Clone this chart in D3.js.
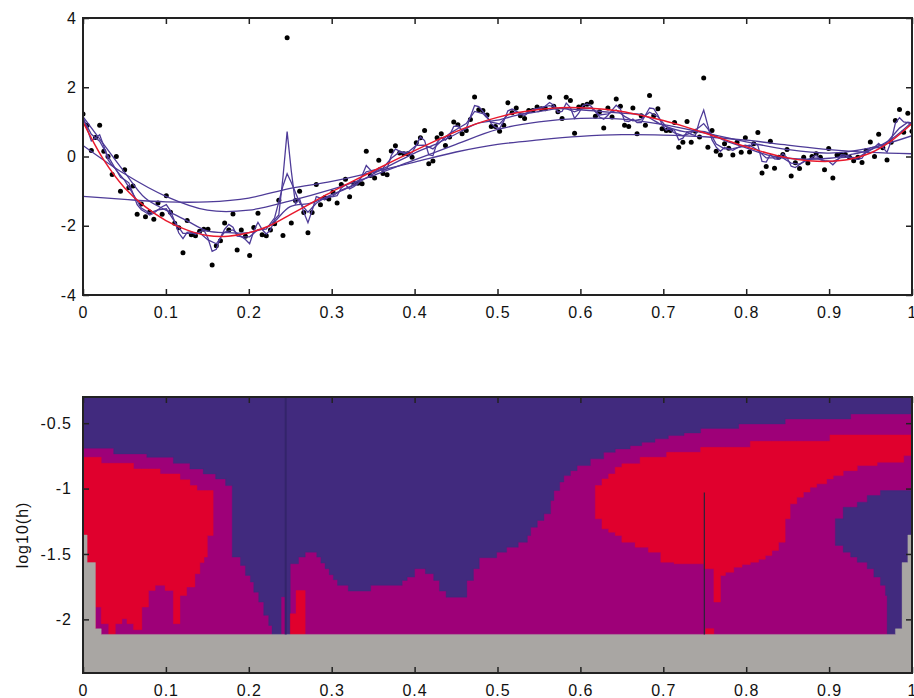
<!DOCTYPE html>
<html>
<head>
<meta charset="utf-8">
<script src="https://cdn.jsdelivr.net/npm/d3@7"></script>
<style>
body { margin: 0; background: white; }
text { font-family: "Liberation Sans", Arial, Helvetica, sans-serif; }
</style>
</head>
<body>
<script>
// observations, evenly spaced on [0, 1]
var ptsY = [1.23,0.90,0.17,0.55,0.90,0.15,0.0,-0.52,0.0,-1.0,
	-0.38,-0.9,-0.85,-1.67,-1.37,-1.74,-1.6,-1.81,-1.34,-1.67,
	-1.13,-1.61,-1.93,-2.06,-2.78,-1.85,-2.26,-2.29,-2.16,-2.1,
	-2.1,-3.13,-2.58,-2.43,-1.92,-2.12,-1.66,-2.7,-2.12,-2.3,
	-2.86,-2.05,-1.64,-2.26,-2.29,-2.12,-1.94,-1.26,-2.28,3.43,
	-1.92,-1.27,-1.0,-1.62,-2.2,-1.62,-0.81,-1.39,-1.19,-1.23,
	-1.03,-1.34,-0.81,-0.66,-1.16,-0.77,-0.77,-0.79,0.15,-0.55,
	-0.62,-0.11,-0.49,-0.53,0.16,0.31,0.1,0.08,0.08,-0.02,
	0.4,0.54,0.75,-0.21,-0.13,0.54,0.66,0.32,0.56,1.0,
	0.92,0.66,0.75,1.07,1.72,1.35,1.33,1.2,0.87,0.87,
	0.73,0.9,1.55,1.26,1.4,1.18,1.1,1.33,1.33,1.43,
	1.38,1.38,1.71,1.45,1.29,1.1,1.71,1.62,0.67,1.43,
	1.47,1.51,1.57,1.16,1.29,0.82,1.4,1.14,1.66,1.45,
	0.9,0.87,1.4,0.66,1.18,0.9,1.76,1.18,1.38,0.8,
	0.75,0.75,0.98,0.27,0.41,1.01,0.41,0.73,0.56,2.27,
	0.27,0.75,0.15,0.04,0.37,0.24,0.04,0.41,0.12,0.54,
	0.13,0.37,0.69,-0.48,-0.29,0.44,-0.34,-0.02,0.06,0.2,
	-0.56,-0.18,-0.35,-0.02,-0.19,0.0,0.08,-0.02,-0.38,0.23,
	-0.62,0.04,0.05,0.06,-0.02,-0.12,-0.02,-0.17,0.17,0.42,
	0.0,0.64,0.25,-0.1,0.41,1.04,1.36,0.7,1.25,0.73]

// smallest bandwidth fit, one value per observation
var fitH1 = [1.12,0.80,0.45,0.54,0.63,0.30,-0.09,-0.26,-0.38,-0.60,
	-0.67,-0.76,-1.07,-1.39,-1.54,-1.61,-1.69,-1.64,-1.54,-1.45,
	-1.39,-1.57,-1.88,-2.21,-2.37,-2.19,-2.17,-2.25,-2.18,-2.12,
	-2.36,-2.74,-2.68,-2.34,-2.10,-1.96,-2.04,-2.30,-2.31,-2.40,
	-2.52,-2.15,-1.90,-2.11,-2.24,-2.12,-1.82,-1.69,-0.60,0.72,
	-0.42,-1.37,-1.22,-1.61,-1.91,-1.56,-1.16,-1.20,-1.25,-1.17,
	-1.16,-1.13,-0.91,-0.82,-0.94,-0.87,-0.78,-0.55,-0.26,-0.39,
	-0.48,-0.33,-0.41,-0.35,0.03,0.22,0.15,0.09,0.06,0.11,
	0.33,0.56,0.46,0.05,0.02,0.40,0.55,0.47,0.61,0.87,
	0.88,0.75,0.81,1.15,1.47,1.44,1.30,1.15,0.95,0.84,
	0.81,1.02,1.32,1.37,1.31,1.22,1.18,1.27,1.36,1.39,
	1.39,1.46,1.56,1.48,1.28,1.30,1.54,1.41,1.10,1.25,
	1.47,1.52,1.45,1.30,1.14,1.08,1.19,1.34,1.48,1.37,
	1.03,1.01,1.08,0.98,0.98,1.19,1.40,1.38,1.19,0.93,
	0.76,0.81,0.75,0.48,0.53,0.71,0.64,0.61,1.03,1.34,
	0.89,0.48,0.27,0.15,0.26,0.22,0.18,0.25,0.30,0.33,
	0.29,0.39,0.32,-0.14,-0.16,0.06,-0.07,-0.08,0.08,-0.03,
	-0.28,-0.32,-0.23,-0.15,-0.10,-0.03,0.04,-0.09,-0.14,-0.14,
	-0.24,-0.12,0.05,0.04,-0.03,-0.07,-0.08,-0.05,0.15,0.25,
	0.27,0.38,0.26,0.12,0.44,0.96,1.12,1.00,0.98,0.90]

// second bandwidth: observation index where read, and value
var fitH2Idx = [0,2,4,6,8,10,12,14,16,18,20,22,24,26,28,30,32,34,36,38,40,42,44,46,48,49,50,
	52,54,56,58,60,62,64,66,68,70,72,74,76,78,80,82,84,86,88,90,92,94,96,98,100,
	102,104,106,108,110,112,114,116,118,120,122,124,126,128,130,132,134,136,138,140,
	142,144,146,148,149,150,152,154,156,158,160,162,164,166,168,170,172,174,176,178,
	180,182,184,186,188,190,192,194,196,198,199]
var fitH2 = [1.1,0.64,0.44,0.01,-0.40,-0.69,-1.08,-1.49,-1.63,-1.54,-1.51,-1.88,-2.22,-2.22,-2.20,-2.41,-2.52,-2.18,-2.12,-2.32,-2.32,-2.11,-2.10,-1.77,-0.85,-0.50,-0.75,
	-1.33,-1.61,-1.35,-1.20,-1.14,-0.97,-0.88,-0.71,-0.44,-0.39,-0.34,-0.05,0.13,0.12,0.32,0.33,0.22,0.45,0.66,0.81,0.95,1.30,1.24,0.99,0.94,
	1.21,1.29,1.24,1.33,1.42,1.47,1.39,1.38,1.29,1.39,1.40,1.20,1.23,1.34,1.16,1.03,1.08,1.28,1.15,0.86,
	0.68,0.60,0.68,0.85,0.95,0.80,0.36,0.22,0.23,0.28,0.33,0.18,-0.04,-0.04,-0.04,-0.19,-0.22,-0.09,-0.04,-0.12,
	-0.15,-0.03,-0.02,-0.04,0.12,0.25,0.27,0.55,0.82,0.99,0.97]

// medium bandwidth, x = 0, 0.025, ..., 1
var gridFine = d3.range(41).map(i => i / 40)
var fitH3 = [1.15,0.35,-0.45,-1.2,-1.55,-1.85,-2.15,-2.2,-2.2,-2.0,-1.45,-1.35,-1.1,-0.85,-0.5,-0.2,0.1,0.35,0.65,0.95,
	1.05,1.2,1.3,1.38,1.35,1.3,1.25,1.2,0.9,0.72,0.72,0.45,0.25,0.05,-0.05,-0.08,-0.05,0.05,0.2,0.5,1.0]
var truth = [1.0,-0.1,-0.9,-1.45,-1.85,-2.12,-2.28,-2.3,-2.2,-2.0,-1.68,-1.35,-1.02,-0.72,-0.42,-0.12,0.17,0.45,0.72,0.95,
	1.13,1.27,1.36,1.41,1.41,1.37,1.3,1.18,1.04,0.87,0.68,0.48,0.28,0.1,-0.04,-0.12,-0.14,-0.08,0.1,0.45,0.95]

// large bandwidths, x = 0, 0.05, ..., 1
var gridCoarse = d3.range(21).map(i => i / 20)
var fitH4 = [0.32,-0.5,-1.15,-1.55,-1.55,-1.28,-0.95,-0.55,-0.1,0.35,0.78,1.0,1.1,1.08,0.92,0.68,0.42,0.2,0.1,0.25,0.6]
var fitH5 = [-1.15,-1.24,-1.31,-1.31,-1.2,-0.92,-0.72,-0.45,-0.16,0.13,0.35,0.48,0.58,0.63,0.62,0.57,0.47,0.33,0.2,0.12,0.08]

// SiZer map: step boundaries in log10(h); X arrays hold the step edges
var blueTopX = [0,0.037,0.077,0.109,0.129,0.145,0.16,0.172,0.18,0.19,0.196,0.202,0.206,0.212,0.218,0.224,0.228,
	0.250,0.26,0.268,0.282,0.287,0.292,0.297,0.302,0.307,0.32,0.347,0.385,0.391,0.400,0.413,0.423,0.430,0.438,
	0.463,0.471,0.478,0.499,0.511,0.525,0.536,0.540,0.548,0.556,0.564,0.568,0.575,0.580,0.588,0.596,0.612,
	0.628,0.642,0.660,0.674,0.690,0.706,0.725,0.745,0.791,0.847,0.926,1.0]
var blueTopLo = [-0.691,-0.735,-0.761,-0.807,-0.85,-0.888,-0.926,-0.977,-1.524,-1.588,-1.664,-1.715,-1.792,-1.868,-1.969,-2.046,-2.41,
	-1.575,-1.524,-1.486,-1.524,-1.570,-1.613,-1.659,-1.697,-1.740,-1.784,-1.740,-1.702,-1.677,-1.613,-1.651,-1.702,-1.784,-1.830,
	-1.702,-1.613,-1.529,-1.486,-1.448,-1.410,-1.359,-1.295,-1.244,-1.193,-1.092,-1.015,-0.95,-0.901,-0.863,-0.824,-0.773,
	-0.723,-0.697,-0.672,-0.646,-0.62,-0.595,-0.575,-0.54,-0.506,-0.468,-0.430]

var redLeftX = [0,0.015,0.022,0.031,0.039,0.047,0.053,0.061,0.071,0.079,0.087,0.093,0.099,0.109,0.117,0.125,0.129,0.135,0.1375,0.141,0.146,0.150,0.157]
var redLeftLo = [-2.115,-1.906,-2.033,-2.115,-2.033,-1.995,-2.033,-2.079,-1.906,-1.779,-1.740,-1.740,-1.779,-2.033,-1.817,-1.753,-1.753,-1.651,-1.651,-1.566,-1.524,-1.359]
var redLeftHi = [-0.761,-0.761,-0.807,-0.807,-0.807,-0.807,-0.807,-0.850,-0.850,-0.850,-0.850,-0.888,-0.888,-0.888,-0.933,-0.933,-0.977,-0.977,-1.015,-1.015,-1.015,-1.015]

var redRightX = [0.618,0.626,0.634,0.642,0.650,0.666,0.672,0.682,0.697,0.704,0.713,0.745,0.749,0.761,0.769,0.775,0.785,0.795,
	0.805,0.815,0.823,0.831,0.839,0.847,0.853,0.861,0.869,0.877,0.885,0.897,0.901,0.905,0.917,0.934,0.958,0.990,1.0]
var redRightLo = [-1.231,-1.308,-1.334,-1.359,-1.410,-1.448,-1.448,-1.486,-1.563,-1.563,-1.575,-1.575,-1.613,-1.868,-1.664,-1.640,-1.601,-1.580,
	-1.563,-1.540,-1.511,-1.473,-1.410,-1.231,-1.117,-1.066,-1.027,-0.990,-0.964,-0.926,-0.926,-0.901,-0.863,-0.824,-0.799,-0.748]
var redRightHi = [-0.977,-0.926,-0.888,-0.837,-0.811,-0.811,-0.761,-0.761,-0.761,-0.723,-0.723,-0.685,-0.685,-0.685,-0.685,-0.685,-0.685,-0.685,
	-0.639,-0.639,-0.639,-0.639,-0.639,-0.639,-0.639,-0.639,-0.639,-0.639,-0.639,-0.639,-0.590,-0.590,-0.590,-0.590,-0.590,-0.590]

var bluePocketX = [0.9075,0.917,0.926,0.934,0.946,0.954,0.962,0.968,0.970,1.0]
var bluePocketLo = [-1.435,-1.486,-1.524,-1.563,-1.613,-1.677,-1.740,-1.817,-2.115]
var bluePocketHi = [-1.231,-1.143,-1.143,-1.104,-1.053,-1.053,-1.015,-1.015,-1.015]

var redBlockX = [0.250,0.257,0.268]
var redBlockLo = [-2.115,-2.115]
var redBlockHi = [-1.957,-1.779]

var purpleSpeckX = [0.2395,0.2445]
var purpleSpeckLo = [-2.115]
var purpleSpeckHi = [-1.83]

var redSpeckX = [0.751,0.761]
var redSpeckLo = [-2.115]
var redSpeckHi = [-2.071]

var grayX = [0,0.005,0.015,0.022,0.980,0.988,0.995,1.0]
var grayHi = [-1.355,-1.566,-2.072,-2.115,-2.072,-1.566,-1.355]

// thin columns at the two outliers
var spikeX = [0.2445, 0.7495]
var spikeTop = [-0.30, -1.03]

var xTicks = d3.range(11).map(i => i / 10)
var yTicksTop = [-4, -2, 0, 2, 4]
var yTicksMap = [-2, -1.5, -1, -0.5]

var colBlue = '#412a7e',
	colPurple = '#9e0078',
	colRed = '#e0002d',
	colGray = '#a9a6a3',
	colLine = '#4e3b98'

var width = 914, height = 698

var svg = d3.select('body').append('svg')
	.attr('width', width)
	.attr('height', height)

// ---------- top panel ----------
var x = d3.scaleLinear().domain([0, 1]).range([83, 912])
var y = d3.scaleLinear().domain([-4, 4]).range([295, 18])

var upper = svg.append('g')

upper.append('clipPath').attr('id', 'clipTop')
	.append('rect')
		.attr('x', 83).attr('y', 18)
		.attr('width', 829).attr('height', 277)

var n = ptsY.length
var ptsX = d3.range(n).map(i => i / (n - 1))

upper.append('g')
	.attr('clip-path', 'url(#clipTop)')
	.selectAll('circle')
	.data(ptsY)
	.enter()
	.append('circle')
		.attr('cx', (d, i) => x(ptsX[i]))
		.attr('cy', d => y(d))
		.attr('r', 2.5)
		.attr('fill', 'black')

var lineLin = d3.line().x(d => x(d[0])).y(d => y(d[1]))
var lineSmooth = d3.line().x(d => x(d[0])).y(d => y(d[1])).curve(d3.curveCatmullRom.alpha(0.5))

var curves = [
	{ pts: gridCoarse.map((g, i) => [g, fitH5[i]]), gen: lineSmooth },
	{ pts: gridCoarse.map((g, i) => [g, fitH4[i]]), gen: lineSmooth },
	{ pts: gridFine.map((g, i) => [g, fitH3[i]]), gen: lineSmooth },
	{ pts: fitH2Idx.map((k, i) => [ptsX[k], fitH2[i]]), gen: lineLin },
	{ pts: fitH1.map((v, i) => [ptsX[i], v]), gen: lineLin }
]

var lines = upper.append('g').attr('clip-path', 'url(#clipTop)')

lines.selectAll('path.fit')
	.data(curves)
	.enter()
	.append('path')
		.attr('class', 'fit')
		.attr('d', d => d.gen(d.pts))
		.attr('fill', 'none')
		.attr('stroke', colLine)
		.attr('stroke-width', 1.3)

lines.append('path')
	.attr('d', lineSmooth(gridFine.map((g, i) => [g, truth[i]])))
	.attr('fill', 'none')
	.attr('stroke', '#e8192c')
	.attr('stroke-width', 1.5)

function frame(g, xs, ys, yTicks, padX, padY) {
	g.append('g')
		.attr('transform', 'translate(0,' + ys.range()[0] + ')')
		.call(d3.axisBottom(xs).tickValues(xTicks).tickFormat(d => String(d)).tickSizeInner(-6).tickSizeOuter(0).tickPadding(padX))
	g.append('g')
		.attr('transform', 'translate(0,' + ys.range()[1] + ')')
		.call(d3.axisTop(xs).tickValues(xTicks).tickFormat('').tickSizeInner(-6).tickSizeOuter(0))
	g.append('g')
		.attr('transform', 'translate(' + xs.range()[0] + ',0)')
		.call(d3.axisLeft(ys).tickValues(yTicks).tickFormat(d => String(d)).tickSizeInner(-6).tickSizeOuter(0).tickPadding(padY))
	g.append('g')
		.attr('transform', 'translate(' + xs.range()[1] + ',0)')
		.call(d3.axisRight(ys).tickValues(yTicks).tickFormat('').tickSizeInner(-6).tickSizeOuter(0))

	g.selectAll('.domain').remove()
	g.selectAll('.tick line').attr('stroke', '#222').attr('stroke-width', 1.5)
	g.selectAll('.tick text')
		.attr('fill', '#111')
		.style('font-size', '16px')
		.style('letter-spacing', '1px')
		.style('font-family', '"Liberation Sans", Arial, sans-serif')

	g.append('rect')
		.attr('x', xs.range()[0])
		.attr('y', ys.range()[1])
		.attr('width', xs.range()[1] - xs.range()[0])
		.attr('height', ys.range()[0] - ys.range()[1])
		.attr('fill', 'none')
		.attr('stroke', '#222')
		.attr('stroke-width', 2)
}

frame(upper, x, y, yTicksTop, 12, 6)

// ---------- bottom panel (SiZer map) ----------
var my = d3.scaleLinear().domain([-2.41, -0.30]).range([673, 397])

var map = svg.append('g')

map.append('clipPath').attr('id', 'clipMap')
	.append('rect')
		.attr('x', 83).attr('y', 397)
		.attr('width', 829).attr('height', 276)

var cells = map.append('g').attr('clip-path', 'url(#clipMap)')

var stepArea = d3.area()
	.x(d => x(d[0]))
	.y0(d => my(d[1]))
	.y1(d => my(d[2]))
	.curve(d3.curveStepAfter)

function steps(xs, lo, hi) {
	var k = xs.length - 1
	var pts = []
	for (var i = 0; i < k; i++) {
		pts.push([xs[i], Array.isArray(lo) ? lo[i] : lo, Array.isArray(hi) ? hi[i] : hi])
	}
	pts.push([xs[k], pts[k - 1][1], pts[k - 1][2]])
	return stepArea(pts)
}

cells.append('rect')
	.attr('x', x(0)).attr('y', my(-0.30))
	.attr('width', x(1) - x(0)).attr('height', my(-2.41) - my(-0.30))
	.attr('fill', colPurple)

var layers = [
	{ xs: blueTopX, lo: blueTopLo, hi: -0.30, fill: colBlue },
	{ xs: redLeftX, lo: redLeftLo, hi: redLeftHi, fill: colRed },
	{ xs: redRightX, lo: redRightLo, hi: redRightHi, fill: colRed },
	{ xs: bluePocketX, lo: bluePocketLo, hi: bluePocketHi, fill: colBlue },
	{ xs: redBlockX, lo: redBlockLo, hi: redBlockHi, fill: colRed },
	{ xs: purpleSpeckX, lo: purpleSpeckLo, hi: purpleSpeckHi, fill: colPurple },
	{ xs: redSpeckX, lo: redSpeckLo, hi: redSpeckHi, fill: colRed },
	{ xs: grayX, lo: -2.41, hi: grayHi, fill: colGray }
]

cells.selectAll('path.region')
	.data(layers)
	.enter()
	.append('path')
		.attr('class', 'region')
		.attr('d', d => steps(d.xs, d.lo, d.hi))
		.attr('fill', d => d.fill)
		.attr('stroke', d => d.fill)
		.attr('stroke-width', 0.4)

cells.selectAll('line.spike')
	.data(spikeX)
	.enter()
	.append('line')
		.attr('class', 'spike')
		.attr('x1', d => x(d)).attr('x2', d => x(d))
		.attr('y1', (d, i) => my(spikeTop[i]))
		.attr('y2', my(-2.115))
		.attr('stroke', (d, i) => i == 0 ? '#33246a' : '#2a2238')
		.attr('stroke-width', (d, i) => i == 0 ? 2 : 1.2)

frame(map, x, my, yTicksMap, 12, 11)

map.append('text')
	.attr('transform', 'translate(28,535) rotate(-90)')
	.attr('text-anchor', 'middle')
	.style('font-size', '16px')
	.style('letter-spacing', '1px')
	.attr('fill', '#111')
	.text('log10(h)')
</script>
</body>
</html>
